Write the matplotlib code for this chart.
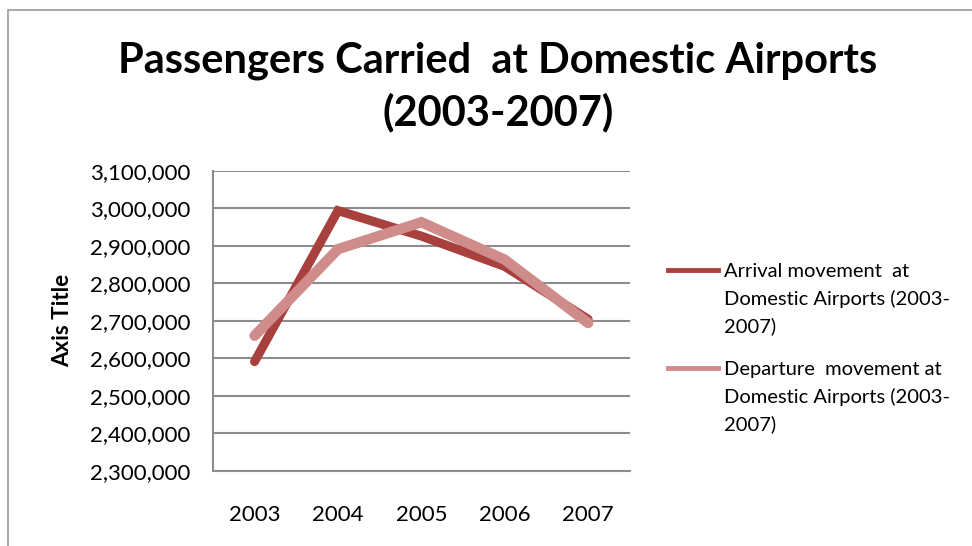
import matplotlib.pyplot as plt
from matplotlib.patches import Rectangle
from matplotlib.lines import Line2D
from matplotlib.ticker import FuncFormatter

years = ['2003', '2004', '2005', '2006', '2007']
arrival = [2591000, 2994000, 2926000, 2845000, 2704000]
departure = [2660000, 2891000, 2963000, 2863000, 2694000]
labels = ['Arrival movement  at\nDomestic Airports (2003-\n2007)',
          'Departure  movement at\nDomestic Airports (2003-\n2007)']
colors = ['#a8403e', '#cf8c8b']

plt.rcParams['font.family'] = ['Lato', 'DejaVu Sans']

W, H = 972, 546
fig = plt.figure(figsize=(9.72, 5.46), dpi=100)
fig.patches.append(Rectangle((8 / W, -0.1), 1.2, 1 - 10 / H + 0.1, transform=fig.transFigure,
                             fill=False, edgecolor='#9a9a9a', linewidth=1.2))

ax = fig.add_axes([0.219, 0.138, 0.429, 0.549])
x = range(len(years))
ax.plot(x, arrival, color=colors[0], linewidth=6.5, solid_capstyle='round', solid_joinstyle='miter')
ax.plot(x, departure, color=colors[1], linewidth=7.5, solid_capstyle='round', solid_joinstyle='miter')

ax.set_xlim(-0.5, 4.5)
ax.set_ylim(2300000, 3100000)
ax.set_yticks(range(2300000, 3100001, 100000))
ax.yaxis.set_major_formatter(FuncFormatter(lambda v, p: f'{int(v):,}'))
ax.set_xticks(list(x))
ax.set_xticklabels(years)
ax.tick_params(length=0, labelsize=16)
ax.tick_params(axis='y', pad=16)
ax.tick_params(axis='x', pad=25)
ax.yaxis.grid(True, color='#8c8c8c', linewidth=1.5)
ax.set_axisbelow(True)
for s in ['top', 'right']:
    ax.spines[s].set_visible(False)
for s in ['left', 'bottom']:
    ax.spines[s].set_color('#8c8c8c')
    ax.spines[s].set_linewidth(1.5)

ax.set_ylabel('Axis Title', fontsize=16, fontweight='bold')
ax.yaxis.set_label_coords(-0.335, 0.5)

fig.text(0.512, 1 - 87 / H, 'Passengers Carried  at Domestic Airports\n(2003-2007)', ha='center', va='center',
         fontsize=30, fontweight='bold', linespacing=1.4)

# legend drawn by hand so the key sits on the first text line
leg_y = [270, 368]
for lab, c, yy in zip(labels, colors, leg_y):
    fig.add_artist(Line2D([668 / W, 718 / W], [1 - yy / H, 1 - yy / H], transform=fig.transFigure,
                          color=c, linewidth=3.5))
    fig.text(724 / W, 1 - (yy - 7) / H, lab, ha='left', va='top', fontsize=14.5, linespacing=1.65)

fig.savefig('out.png', dpi=100)
